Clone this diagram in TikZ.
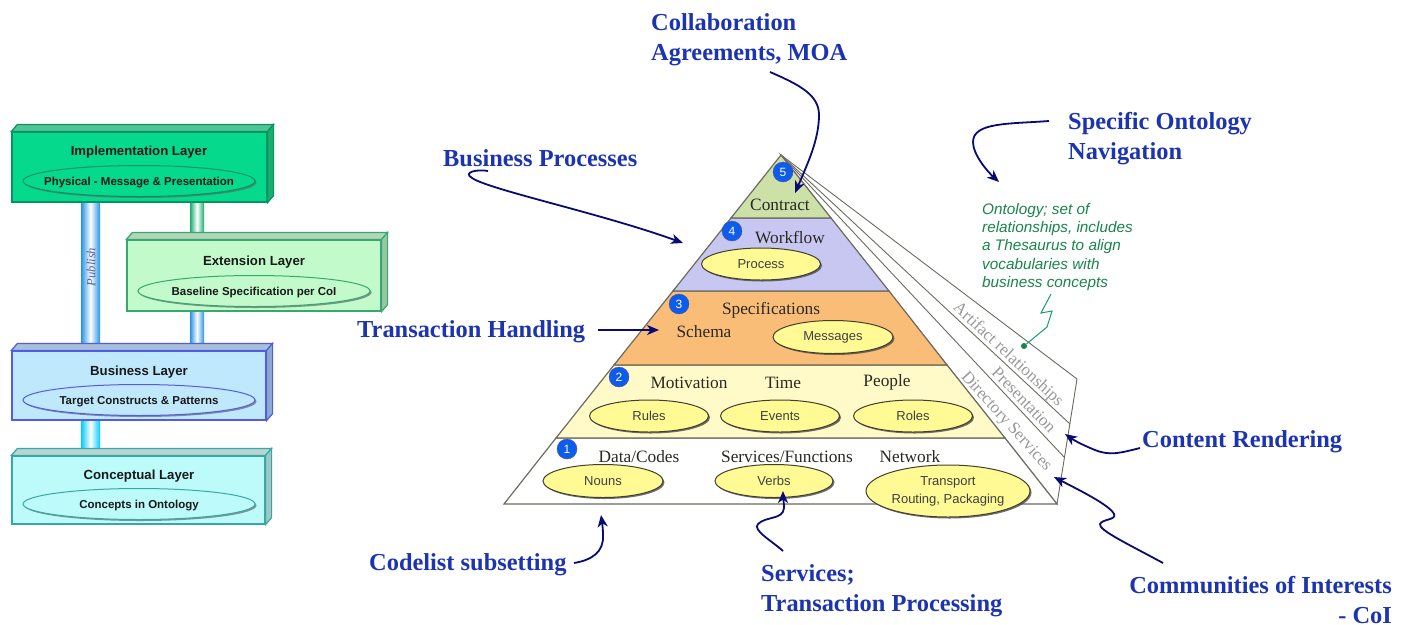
\documentclass[tikz,border=0pt]{standalone}
\usepackage{fontspec}
\setmainfont{Liberation Serif}
\setsansfont{Liberation Sans}
\usepackage{tikz}
\usetikzlibrary{calc}
\usetikzlibrary{arrows.meta,shapes,shadows}
\definecolor{ink}{rgb}{.11,.20,.70}
\definecolor{navy}{rgb}{.04,.04,.45}
\definecolor{edgegray}{rgb}{.42,.42,.38}
\definecolor{word}{rgb}{.16,.16,.14}
\definecolor{onto}{rgb}{.10,.52,.30}
\definecolor{badge}{rgb}{.05,.36,.92}
\definecolor{pale}{rgb}{1,.98,.78}
\definecolor{contract}{rgb}{.80,.88,.66}
\definecolor{flow}{rgb}{.78,.78,.95}
\definecolor{spec}{rgb}{.98,.74,.47}
\definecolor{egg}{rgb}{1,.98,.58}
\definecolor{ifill}{rgb}{.02,.85,.55}
\definecolor{iline}{rgb}{.02,.58,.40}
\definecolor{iside}{rgb}{.10,.68,.44}
\definecolor{efill}{rgb}{.76,.98,.80}
\definecolor{eline}{rgb}{.22,.66,.44}
\definecolor{eside}{rgb}{.60,.78,.63}
\definecolor{bfill}{rgb}{.75,.91,.99}
\definecolor{bline}{rgb}{.32,.36,.90}
\definecolor{bside}{rgb}{.55,.67,.80}
\definecolor{cfill}{rgb}{.74,.98,.98}
\definecolor{cline}{rgb}{.22,.66,.64}
\definecolor{cside}{rgb}{.62,.78,.78}
\definecolor{colblue}{rgb}{.15,.58,.90}
\tikzstyle{label}=[text=ink,font=\fontsize{24.4}{30}\selectfont\bfseries,align=left,anchor=west,inner sep=0pt]
\tikzstyle{pointer}=[->,draw=navy,line width=1.8pt]
\tikzstyle{band}=[draw=edgegray,line width=1.2pt]
\tikzstyle{wedge}=[draw=edgegray,line width=.9pt]
\tikzstyle{word}=[text=word,font=\fontsize{17.3}{20}\selectfont,inner sep=0pt]
\tikzstyle{slant}=[text=gray!80,font=\fontsize{17}{20}\selectfont,inner sep=0pt]
\tikzstyle{egg}=[ellipse,draw=black!70!olive,line width=1pt,fill=egg,inner sep=0pt,align=center,
	text=black!75,font=\fontsize{13}{18}\selectfont\sffamily,
	drop shadow={shadow xshift=1.5pt,shadow yshift=-1.5pt,fill=black!70,opacity=.8}]
\tikzstyle{badge}=[circle,draw=navy!70,fill=badge,minimum size=20pt,inner sep=0pt,text=white,
	font=\fontsize{12}{12}\selectfont\sffamily]
\tikzstyle{slab}=[rectangle,line width=1.2pt,inner sep=0pt]
\tikzstyle{title}=[text=black!90,font=\fontsize{13.2}{16}\selectfont\sffamily\bfseries,inner sep=0pt]
\tikzstyle{oval}=[ellipse,line width=1pt,inner sep=0pt,inner xsep=-50pt,text=black!90,
	font=\fontsize{11.5}{14}\selectfont\sffamily\bfseries,minimum height=31pt,text height=9pt,text depth=1pt,
	drop shadow={shadow xshift=1.5pt,shadow yshift=-1.5pt,fill=black!60,opacity=.7}]
\tikzstyle{pillar}=[draw=none]
\newcommand{\slabfaces}[3]{
	\draw[line width=1.2pt,draw=#3,fill=#2!75!white] (#1.north west) -- ++(6,-7) -- ($(#1.north east)+(6,-7)$) -- (#1.north east) -- cycle;
	\draw[line width=1.2pt,draw=#3,fill=#2] (#1.north east) -- ++(6,-7) -- ($(#1.south east)+(6,-7)$) -- (#1.south east) -- cycle;
}
\begin{document}
\begin{tikzpicture}[x=1pt,y=-1pt,>={Stealth[length=12pt,width=10pt,inset=3.5pt]}]
	\useasboundingbox[fill=white] (0,0) rectangle (1404,624);
	% columns between the layers
	\shade[pillar,left color=colblue,right color=colblue,middle color=white] (81,201) rectangle (100,351);
	\shade[pillar,left color=iside,right color=iside,middle color=white] (190,201) rectangle (204,236);
	\shade[pillar,left color=colblue,right color=colblue,middle color=white] (190,311) rectangle (204,345);
	\shade[pillar,left color=cyan!80!blue,right color=cyan!80!blue,middle color=white] (81,420) rectangle (100,449);
	\node (publish) [rotate=90,text=blue!25!gray,font=\fontsize{12.6}{14}\selectfont\itshape,inner sep=0pt] at (91,267) {Publish};

	% layers
	\node (impl) [slab,draw=iline,fill=ifill,minimum width=255pt,minimum height=70pt] at (139.5,167) {};
	\slabfaces{impl}{iside}{iline}
	\node (implname) [title] at (139,152.5) {Implementation Layer};
	\node (implsub) [oval,draw=iline,fill=ifill,minimum width=232pt] at (139,181) {Physical - Message \& Presentation};

	\node (ext) [slab,draw=eline,fill=efill,minimum width=254pt,minimum height=71pt] at (254,275.5) {};
	\slabfaces{ext}{eside}{eline}
	\node (extname) [title] at (254,262.5) {Extension Layer};
	\node (extsub) [oval,draw=eline,fill=efill,minimum width=232pt] at (254,291) {Baseline Specification per CoI};

	\node (bus) [slab,draw=bline,fill=bfill,minimum width=254pt,minimum height=69pt] at (139,385.5) {};
	\slabfaces{bus}{bside}{bline}
	\node (busname) [title] at (139,372.5) {Business Layer};
	\node (bussub) [oval,draw=bline,fill=bfill,minimum width=232pt] at (139,400) {Target Constructs \& Patterns};

	\node (con) [slab,draw=cline,fill=cfill,minimum width=253pt,minimum height=68pt] at (138.5,490) {};
	\slabfaces{con}{cside}{cline}
	\node (conname) [title] at (139,476.5) {Conceptual Layer};
	\node (consub) [oval,draw=cline,fill=cfill,minimum width=232pt] at (139,504) {Concepts in Ontology};

	% pyramid
	\coordinate (apex) at (781,155);
	\coordinate (bl) at (504,504);
	\coordinate (br) at (1057,504);
	\coordinate (w1) at (1077,379);
	\coordinate (w2) at (1070,424);
	\coordinate (w3) at (1064,457);
	\draw[wedge,fill=white] (apex) -- (w1) -- (br) -- cycle;
	\draw[wedge] (apex) -- (w2);
	\draw[wedge] (apex) -- (w3);
	\draw[band,fill=white] (556,438) -- (1005,438) -- (br) -- (bl) -- cycle;
	\draw[band,fill=pale] (614,365) -- (947,365) -- (1005,438) -- (556,438) -- cycle;
	\draw[band,fill=spec] (673,291) -- (889,291) -- (947,365) -- (614,365) -- cycle;
	\draw[band,fill=flow] (731,218) -- (831,218) -- (889,291) -- (673,291) -- cycle;
	\draw[band,fill=contract] (apex) -- (831,218) -- (731,218) -- cycle;

	\node (n5) [badge] at (783,172) {5};
	\node (n4) [badge] at (732,231) {4};
	\node (n3) [badge] at (679,304) {3};
	\node (n2) [badge] at (619,377) {2};
	\node (n1) [badge] at (567,449) {1};

	\node (contract) [word] at (780,204.5) {Contract};
	\node (workflow) [word] at (790,237.5) {Workflow};
	\node (specs) [word] at (771,310.5) {Specifications};
	\node (schema) [word] at (704,331.5) {Schema};
	\node (motivation) [word] at (689,382.5) {Motivation};
	\node (time) [word] at (783,382.5) {Time};
	\node (people) [word] at (887,382.5) {People};
	\node (data) [word] at (639,456.5) {Data/Codes};
	\node (services) [word] at (787,456.5) {Services/Functions};
	\node (network) [word] at (910,456.5) {Network};

	\node (process) [egg,minimum width=119pt,minimum height=32pt] at (761,264) {Process};
	\node (messages) [egg,minimum width=120pt,minimum height=33pt] at (833,337) {Messages};
	\node (rules) [egg,minimum width=119pt,minimum height=32pt] at (649,416) {Rules};
	\node (events) [egg,minimum width=119pt,minimum height=32pt] at (780,416) {Events};
	\node (roles) [egg,minimum width=119pt,minimum height=32pt] at (913,416) {Roles};
	\node (nouns) [egg,minimum width=120pt,minimum height=33pt] at (603,481) {Nouns};
	\node (verbs) [egg,minimum width=118pt,minimum height=33pt] at (774,481) {Verbs};
	\node (transport) [egg,minimum width=164pt,minimum height=52pt] at (948,491) {Transport\\Routing, Packaging};

	\node (artifact) [slant,rotate=-43] at (1008,355) {Artifact relationships};
	\node (presentation) [slant,rotate=-46] at (1024,400) {Presentation};
	\node (directory) [slant,rotate=-48] at (1006,422) {Directory Services};

	% ontology note
	\node (note) [anchor=north west,align=left,inner sep=0pt,text=onto,font=\fontsize{15.3}{18.3}\selectfont\sffamily\itshape] at (982,203)
		{Ontology; set of\\relationships, includes\\a Thesaurus to align\\vocabularies with\\business concepts};
	\node (dot) [circle,fill=onto,minimum size=6pt,inner sep=0pt] at (1024,346) {};
	\coordinate (zig) at (1051,294);
	\draw[draw=onto!80!cyan,line width=1pt] (zig) -- (1041,313) -- (1052,311) -- (1047,327) -- (dot);

	% blue labels
	\node (collab) [label] at (651,40) {Collaboration\\Agreements, MOA};
	\node (bizproc) [label] at (443,158) {Business Processes};
	\node (handling) [label] at (357,332) {Transaction Handling};
	\node (codelist) [label] at (369,565) {Codelist subsetting};
	\node (svc) [label] at (761,591) {Services;\\Transaction Processing};
	\node (specific) [label] at (1068,138.5) {Specific Ontology\\Navigation};
	\node (render) [label] at (1142,442) {Content Rendering};
	\node (coi) [label,align=right,anchor=east] at (1392,600) {Communities of Interests\\- CoI};

	% arrows
	\coordinate (a1) at (770,72);
	\coordinate (b1) at (795,193);
	\coordinate (a2) at (1049,121);
	\coordinate (b2) at (999,182);
	\coordinate (a3) at (488,171);
	\coordinate (b3) at (683,243);
	\coordinate (a4) at (598,330);
	\coordinate (b4) at (659,330);
	\coordinate (a5) at (574,563);
	\coordinate (b5) at (601,515);
	\coordinate (a6) at (783,551);
	\coordinate (b6) at (783,491);
	\coordinate (a7) at (1140,448);
	\coordinate (b7) at (1065,434);
	\coordinate (a8) at (1163,563);
	\coordinate (b8) at (1054,477);
	\draw[pointer] (a1) .. controls (800,85) and (819,95) .. (819,115) .. controls (819,140) and (807,165) .. (b1);
	\draw[pointer] (a2) .. controls (1010,124) and (973,122) .. (973,142) .. controls (973,155) and (988,172) .. (b2);
	\draw[pointer] (a3) .. controls (478,169) and (462,172) .. (472,178) .. controls (490,190) and (600,213) .. (b3);
	\draw[pointer] (a4) -- (b4);
	\draw[pointer] (a5) .. controls (592,560) and (604,552) .. (603,535) .. controls (603,528) and (602,522) .. (b5);
	\draw[pointer] (a6) .. controls (772,541) and (752,530) .. (758,524) .. controls (766,516) and (783,520) .. (784,508) .. controls (784,502) and (783,498) .. (b6);
	\draw[pointer] (a7) .. controls (1120,453) and (1110,456) .. (1095,450) .. controls (1085,446) and (1075,441) .. (b7);
	\draw[pointer] (a8) .. controls (1130,545) and (1098,530) .. (1100,524) .. controls (1102,519) and (1117,520) .. (1114,514) .. controls (1110,505) and (1075,488) .. (b8);
\end{tikzpicture}
\end{document}
